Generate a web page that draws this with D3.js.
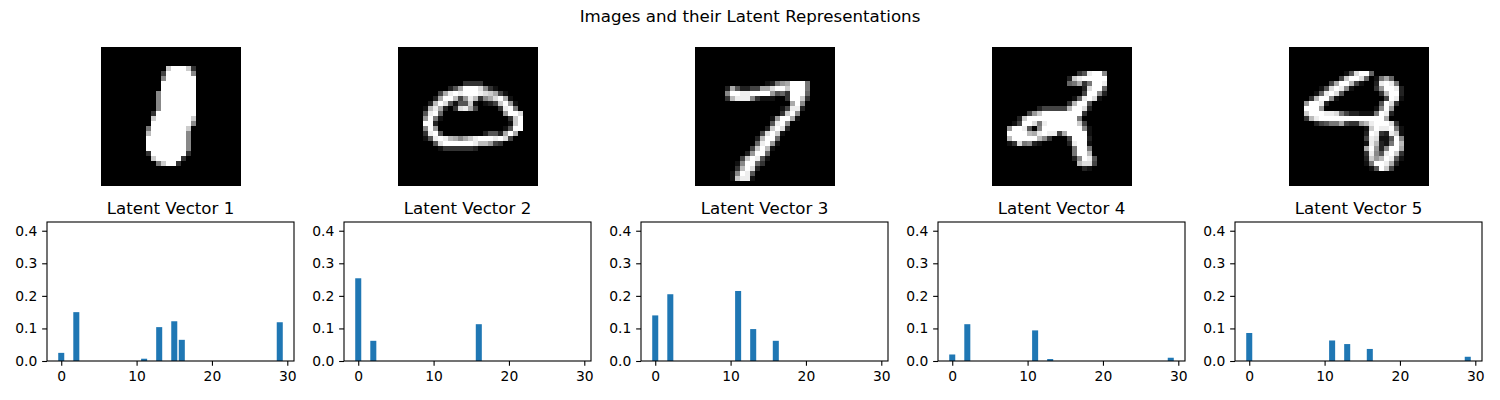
<!DOCTYPE html>
<html>
<head>
<meta charset="utf-8">
<script src="https://cdn.jsdelivr.net/npm/d3@7"></script>
<style>
html,body{margin:0;padding:0;background:#fff;}
svg{display:block;}
text{font-family:"DejaVu Sans",sans-serif;fill:#000;}
</style>
</head>
<body>
<div id="chart"></div>
<script>
const suptitle = "Images and their Latent Representations";
const titles = ["Latent Vector 1","Latent Vector 2","Latent Vector 3","Latent Vector 4","Latent Vector 5"];
const latentDims = [0,2,11,13,15,16,29];
const latent1 = [0.025,0.150,0.007,0.104,0.122,0.065,0.119];
const latent2 = [0.254,0.062,0,0,0,0.113,0];
const latent3 = [0.140,0.205,0.215,0.098,0,0.062,0];
const latent4 = [0.020,0.113,0.094,0.006,0,0,0.010];
const latent5 = [0.086,0,0.063,0.052,0,0.037,0.013];
const xTicks = [0,10,20,30];
const yTicks = [0,0.1,0.2,0.3,0.4];

// Image rows 0..27: "startColumn:hexIntensities" runs, 0 = black, f = white
const image1 = ["","","","",
"13:cfffc3","12:4fffff8","12:8ffffff","12:fffffff","12:fffffff",
"11:8fffffff","11:8fffffff","11:8fffffff","11:8fffffff",
"10:3ffffffff","10:cfffffffc","10:ffffffff8",
"9:7fffffffc","9:bfffffff8","9:ffffffff8","9:ffffffff8","9:ffffffff8",
"9:3fffffff3","10:cfffff3","11:7cff3","","","",""];
const image2 = ["","","","","","","",
"13:3333",
"10:25afffd831",
"8:4aefefffedca41",
"7:2affb49eb38adfa1",
"6:2bfd5155c1 17:124cf91",
"5:1bea2 11:3dea4 20:3ef7",
"5:5ef6 21:9ffd",
"5:9f71 22:3cf",
"5:ff2 22:1cf",
"5:8f9 21:15ff",
"5:3ef5 17:255 20:2afa",
"5:15efeba8acefffefd4",
"7:5dffffffebb943",
"8:1333333 15:2","","","","","","",""];
const image3 = ["","","","","","","",
"14:1279afff7",
"6:2a52244aadffcfff7",
"6:8ffeeffff9563fff6",
"6:3beee83111 18:3ffc3",
"19:af8",
"17:14ee2",
"17:3cf8",
"15:19ffa1",
"15:5ef8",
"14:2cfd2",
"13:4dfc1",
"12:2bff6",
"12:6ef91",
"11:4cfb1",
"10:29ff6",
"9:4cfe51",
"8:18ff63",
"8:3bfd2",
"7:18fe5",
"7:1cee1",
""];
const image4 = ["","","","","",
"17:35eff8",
"15:2cefffff",
"15:67a37ffe",
"18:2dff6",
"18:4ff82",
"16:16efd1",
"15:3bff5",
"9:244444bffd2",
"7:49cffffffff3",
"5:2cffffffffff7",
"4:14ffd7effffffc4",
"3:9ffe508ffffffff81",
"3:ffffbaefee4affff1",
"3:bfffffb83 15:4fff2",
"3:13d7821 15:2eff1",
"16:7ff7",
"16:7ffb",
"16:28fe5",
"17:bdd4",
"18:21",
"","",""];
const image5 = ["","","","","",
"11:15dff6",
"10:4cffd6 17:17a6",
"8:4affb41 17:2efe7",
"6:15dfe81 17:39ffe2",
"5:16efd5 18:3bff2",
"4:3bff81 19:4fe1",
"3:9ffe2 18:5fd3",
"3:fff9 17:18f9",
"3:cfffeed74221117fe2",
"3:3befffffffffffffa",
"5:24577a4339befffd3",
"15:1cfeef71",
"15:2fe32ec1",
"15:4ed115f8",
"15:1eb217fb",
"15:af928ffa",
"15:3e85efc3",
"15:2c9bfe51",
"15:17ffea2",
"16:15fc4",
"","",""];
const images = [image1,image2,image3,image4,image5];
const latents = [latent1,latent2,latent3,latent4,latent5];

const W = 1500, H = 400;
const svg = d3.select("#chart").append("svg").attr("width",W).attr("height",H);

svg.append("text").attr("x",750).attr("y",22).attr("text-anchor","middle")
  .style("font-size","16.67px").text(suptitle);

const imgLeft = [101,398,695,992,1289];
const axLeft = [47,344,641,938,1235];
const axW = 247, axTop = 222, axBottom = 361;
const imgTop = 46, imgSize = 140, bgTop = 47;

function parseRow(s){
  const out = new Array(28).fill(0);
  s.split(" ").filter(Boolean).forEach(run=>{
    const [c,h] = run.split(":");
    [...h].forEach((ch,i)=>{ const k=+c+i; if(k<28) out[k]=parseInt(ch,16)/15; });
  });
  return out;
}

images.forEach((rows,i)=>{
  const g = svg.append("g");
  const px = d3.scaleLinear().domain([0,28]).range([imgLeft[i],imgLeft[i]+imgSize]);
  const py = d3.scaleLinear().domain([0,28]).range([imgTop,imgTop+imgSize]);
  const grey = d3.scaleLinear().domain([0,1]).range(["#000","#fff"]);
  g.append("rect").attr("x",px(0)).attr("y",bgTop).attr("width",imgSize).attr("height",py(28)-bgTop).attr("fill","#000");
  const cells = [];
  for(let r=0;r<28;r++){
    parseRow(rows[r]||"").forEach((v,c)=>{ if(v>0) cells.push({r,c,v}); });
  }
  g.selectAll("rect.px").data(cells).join("rect").attr("class","px")
    .attr("x",d=>px(d.c)).attr("y",d=>py(d.r))
    .attr("width",d=>px(d.c+1)-px(d.c)).attr("height",d=>py(d.r+1)-py(d.r))
    .attr("fill",d=>grey(d.v)).attr("shape-rendering","crispEdges");
});

latents.forEach((vals,i)=>{
  const x = d3.scaleLinear().domain([-1.89,30.89]).range([axLeft[i],axLeft[i]+axW]);
  const y = d3.scaleLinear().domain([0,0.4268]).range([axBottom,axTop]);
  const g = svg.append("g");
  g.selectAll("rect.bar").data(latentDims.map((d,j)=>({d,v:vals[j]})).filter(o=>o.v>0)).join("rect")
    .attr("class","bar").attr("fill","#1f77b4")
    .attr("x",o=>x(o.d-0.4)).attr("width",o=>x(o.d+0.4)-x(o.d-0.4))
    .attr("y",o=>y(o.v)).attr("height",o=>y(0)-y(o.v));
  const ax = g.append("g").attr("transform",`translate(0,${axBottom})`)
    .call(d3.axisBottom(x).tickValues(xTicks).tickFormat(d3.format("d")).tickSize(4.86).tickSizeOuter(0).tickPadding(4.8));
  const ay = g.append("g").attr("transform",`translate(${axLeft[i]},0)`)
    .call(d3.axisLeft(y).tickValues(yTicks).tickFormat(d3.format(".1f")).tickSize(4.86).tickSizeOuter(0).tickPadding(4.8));
  [ax,ay].forEach(a=>{
    a.select(".domain").remove();
    a.selectAll("line").attr("stroke","#000").attr("stroke-width",1.1);
    a.selectAll("text").style("font-size","13.89px").style("font-family",'"DejaVu Sans",sans-serif').attr("fill","#000");
  });
  g.append("rect").attr("x",axLeft[i]).attr("y",axTop).attr("width",axW).attr("height",axBottom-axTop)
    .attr("fill","none").attr("stroke","#000").attr("stroke-width",1.1);
  g.append("text").attr("x",axLeft[i]+axW/2).attr("y",axTop-8).attr("text-anchor","middle")
    .style("font-size","16.67px").text(titles[i]);
});
</script>
</body>
</html>
